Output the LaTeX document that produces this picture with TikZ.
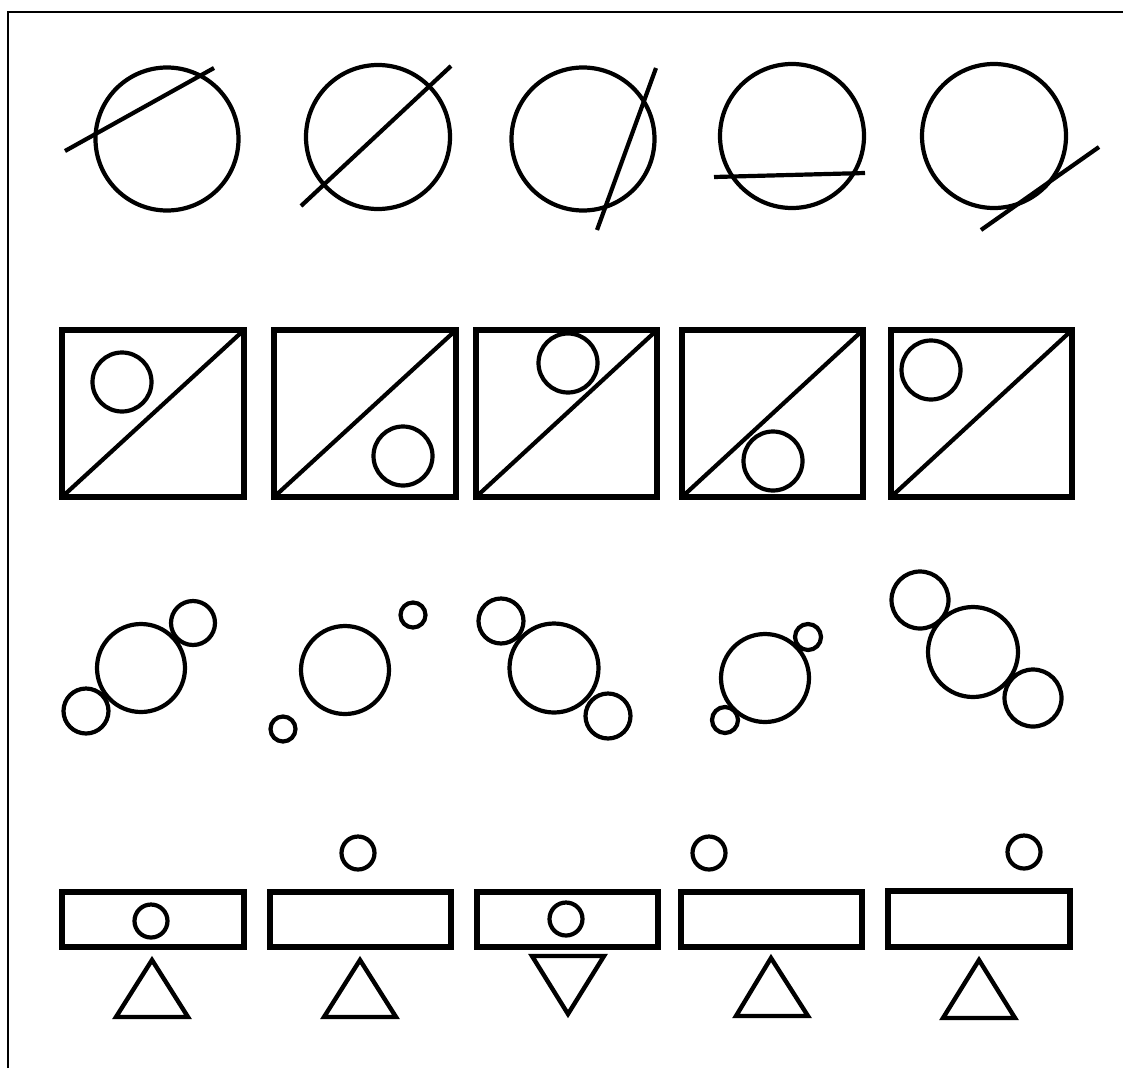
\documentclass[tikz,border=0pt]{standalone}
\begin{document}
\begin{tikzpicture}[
    x=1pt, y=-1pt,
    % Outline strokes, one weight per kind of shape
    ring/.style={draw=black, line width=4.2pt},
    cut/.style={draw=black, line width=4.2pt, line cap=butt},
    panel/.style={draw=black, line width=5.4pt},
    wedge/.style={draw=black, line width=4.4pt, line join=miter},
    frameline/.style={draw=black, line width=1.6pt},
]

% Page is 1123 x 1068, origin top-left, y grows downward
\useasboundingbox (0,0) rectangle (1123,1068);

%% ── Frame: left and top edge only ──
\draw[frameline] (8,1068) -- (8,12) -- (1123,12);

%% ── Row 1: circles cut by a line  y ~ 139 ──
\draw[ring] (167,139) circle (71.5);
\draw[cut]  (65,151)  -- (214,68);
\draw[ring] (378,137) circle (72);
\draw[cut]  (301,206) -- (451,66);
\draw[ring] (583,139) circle (71.5);
\draw[cut]  (597,230) -- (656,68);
\draw[ring] (792,136) circle (72);
\draw[cut]  (714,177) -- (865,173);
\draw[ring] (994,136) circle (72);
\draw[cut]  (981,230) -- (1099,147);

%% ── Row 2: split squares with a disc  y 329..498 ──
\draw[panel] (62,330) rectangle (244,497);
\draw[cut]   (62,497) -- (244,330);
\draw[ring]  (122,382) circle (29.5);

\draw[panel] (274,330) rectangle (456,497);
\draw[cut]   (274,497) -- (456,330);
\draw[ring]  (403,456) circle (29.5);

\draw[panel] (476,330) rectangle (657,497);
\draw[cut]   (476,497) -- (657,330);
\draw[ring]  (568,363) circle (29.5);

\draw[panel] (682,330) rectangle (863,497);
\draw[cut]   (682,497) -- (863,330);
\draw[ring]  (773,461) circle (29.5);

\draw[panel] (891,330) rectangle (1072,497);
\draw[cut]   (891,497) -- (1072,330);
\draw[ring]  (931,370) circle (29.5);

%% ── Row 3: circle clusters  y ~ 670 ──
\draw[ring] (141,668) circle (44);
\draw[ring] (193,623) circle (22);
\draw[ring] (86,711)  circle (22.5);

\draw[ring] (345,670) circle (44);
\draw[ring] (413,615) circle (12.5);
\draw[ring] (283,729) circle (12.5);

\draw[ring] (554,668) circle (44.5);
\draw[ring] (501,621) circle (22.5);
\draw[ring] (608,716) circle (22.5);

\draw[ring] (765,678) circle (44);
\draw[ring] (808,637) circle (13);
\draw[ring] (725,720) circle (13);

\draw[ring] (973,652) circle (45);
\draw[ring] (920,600) circle (28.5);
\draw[ring] (1033,698) circle (28.5);

%% ── Row 4: bars, balls and wedges  y 891..1018 ──
\draw[panel] (62,892) rectangle (244,947);
\draw[ring]  (151,921) circle (16.5);
\draw[wedge] (152,960) -- (188,1017) -- (116,1017) -- cycle;

\draw[panel] (270,892) rectangle (451,947);
\draw[ring]  (358,853) circle (16.5);
\draw[wedge] (360,960) -- (396,1017) -- (324,1017) -- cycle;

\draw[panel] (477,892) rectangle (658,947);
\draw[ring]  (566,919) circle (16.5);
\draw[wedge] (532,956) -- (604,956) -- (568,1014) -- cycle;

\draw[panel] (681,892) rectangle (862,947);
\draw[ring]  (709,853) circle (16.5);
\draw[wedge] (771,958) -- (808,1016) -- (736,1016) -- cycle;

\draw[panel] (888,891) rectangle (1070,947);
\draw[ring]  (1024,852) circle (16.5);
\draw[wedge] (979,960) -- (1015,1018) -- (943,1018) -- cycle;

\end{tikzpicture}
\end{document}
